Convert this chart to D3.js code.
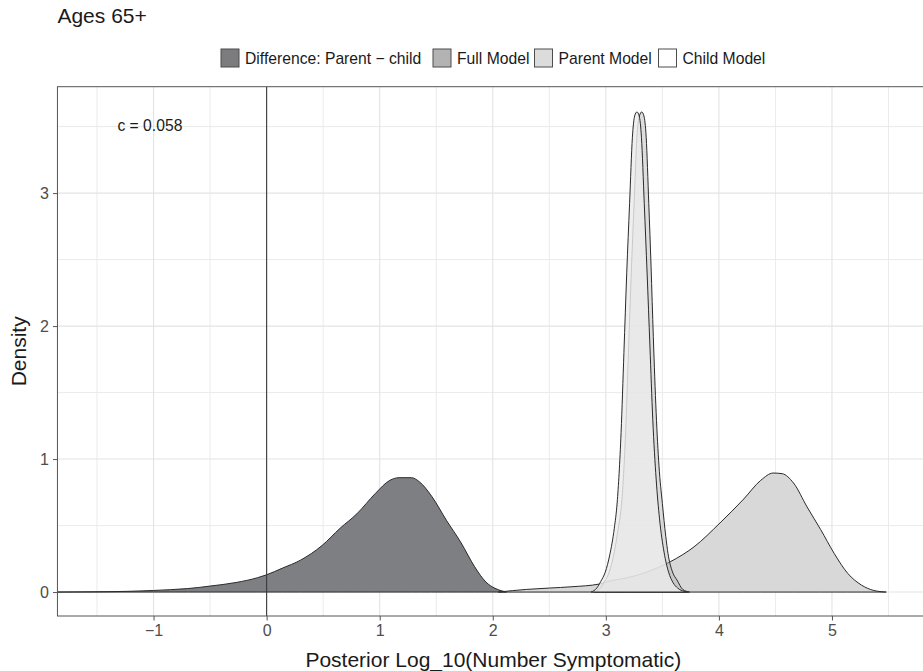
<!DOCTYPE html>
<html>
<head>
<meta charset="utf-8">
<script src="https://cdn.jsdelivr.net/npm/d3@7"></script>
<style>
  html, body { margin: 0; padding: 0; background: #ffffff; }
  svg { display: block; }
  text { font-family: "Liberation Sans", Arial, Helvetica, sans-serif; }
</style>
</head>
<body>
<svg id="chart" width="923" height="671"></svg>
<script>
// ---------------- data ----------------
const titleText = "Ages 65+";
const xTitle = "Posterior Log_10(Number Symptomatic)";
const yTitle = "Density";
const annotation = "c = 0.058";

const seriesNames = ["Difference: Parent \u2212 child", "Full Model", "Parent Model", "Child Model"];
const legendFills = ["#7c7c7e", "#b3b3b3", "#dcdcdc", "#ffffff"];

const xTicks = [-1, 0, 1, 2, 3, 4, 5];
const xTickLabels = ["\u22121", "0", "1", "2", "3", "4", "5"];
const xMinor = [-1.5, -0.5, 0.5, 1.5, 2.5, 3.5, 4.5, 5.5];
const yTicks = [0, 1, 2, 3];
const yTickLabels = ["0", "1", "2", "3"];
const yMinor = [0.5, 1.5, 2.5, 3.5];

// Difference: Parent - child (dark grey)
const diffX = [-1.85, -1.5, -1.2, -1.0, -0.85, -0.7, -0.5, -0.27, -0.08, 0.0, 0.14, 0.30, 0.49, 0.65, 0.80, 0.96, 1.09, 1.17, 1.28, 1.35, 1.46, 1.59, 1.72, 1.84, 1.94, 2.02, 2.08, 2.12];
const diffY = [0, 0.002, 0.006, 0.012, 0.018, 0.026, 0.045, 0.072, 0.108, 0.13, 0.18, 0.24, 0.35, 0.48, 0.59, 0.74, 0.84, 0.86, 0.86, 0.83, 0.72, 0.54, 0.37, 0.19, 0.075, 0.028, 0.009, 0];

// Wide model density (peak near 4.5)
const wideX = [2.05, 2.3, 2.5, 2.7, 2.94, 3.01, 3.2, 3.33, 3.45, 3.57, 3.78, 4.01, 4.22, 4.37, 4.48, 4.56, 4.66, 4.78, 4.90, 5.02, 5.14, 5.26, 5.37, 5.48];
const wideY = [0, 0.02, 0.03, 0.04, 0.06, 0.078, 0.11, 0.14, 0.18, 0.228, 0.34, 0.52, 0.70, 0.84, 0.895, 0.89, 0.82, 0.64, 0.47, 0.29, 0.14, 0.053, 0.012, 0];

// Spike, right-shifted (darker)
const spikeAX = [2.90, 2.95, 2.99, 3.03, 3.07, 3.11, 3.14, 3.175, 3.20, 3.225, 3.25, 3.275, 3.297, 3.317, 3.337, 3.357, 3.38, 3.40, 3.42, 3.445, 3.47, 3.50, 3.53, 3.55, 3.59, 3.63, 3.68, 3.74];
const spikeAY = [0, 0.03, 0.08, 0.15, 0.28, 0.48, 0.67, 1.2, 1.8, 2.4, 2.92, 3.42, 3.58, 3.61, 3.58, 3.42, 2.92, 2.45, 1.92, 1.35, 0.95, 0.667, 0.42, 0.29, 0.15, 0.09, 0.02, 0];

// Spike, left (lighter)
const spikeBX = [2.87, 2.92, 2.955, 2.995, 3.035, 3.075, 3.10, 3.135, 3.16, 3.185, 3.21, 3.235, 3.255, 3.275, 3.295, 3.315, 3.34, 3.365, 3.39, 3.415, 3.445, 3.475, 3.515, 3.555, 3.595, 3.635, 3.695, 3.72];
const spikeBY = [0, 0.03, 0.08, 0.15, 0.28, 0.48, 0.67, 1.2, 1.8, 2.4, 2.92, 3.42, 3.58, 3.61, 3.58, 3.42, 2.92, 2.4, 1.85, 1.3, 0.85, 0.55, 0.3, 0.15, 0.07, 0.03, 0.005, 0];

// ---------------- layout ----------------
const svg = d3.select("#chart");
const W = 923, H = 671;
const panel = { left: 57.45, right: 929.2, top: 86.7, bottom: 616 };

const x = d3.scaleLinear().domain([-1.85, 5.86]).range([panel.left, panel.right]);
const y = d3.scaleLinear().domain([-0.18, 3.80]).range([panel.bottom, panel.top]);

svg.append("rect").attr("width", W).attr("height", H).attr("fill", "#ffffff");

const defs = svg.append("defs");
defs.append("clipPath").attr("id", "clip").append("rect")
  .attr("x", panel.left).attr("y", panel.top)
  .attr("width", panel.right - panel.left).attr("height", panel.bottom - panel.top);

const g = svg.append("g").attr("clip-path", "url(#clip)");

// grid
g.selectAll(".xminor").data(xMinor).join("line")
  .attr("x1", d => x(d)).attr("x2", d => x(d))
  .attr("y1", panel.top).attr("y2", panel.bottom)
  .attr("stroke", "#ebebeb").attr("stroke-width", 1);
g.selectAll(".yminor").data(yMinor).join("line")
  .attr("y1", d => y(d)).attr("y2", d => y(d))
  .attr("x1", panel.left).attr("x2", panel.right)
  .attr("stroke", "#ebebeb").attr("stroke-width", 1);
g.selectAll(".xmajor").data(xTicks).join("line")
  .attr("x1", d => x(d)).attr("x2", d => x(d))
  .attr("y1", panel.top).attr("y2", panel.bottom)
  .attr("stroke", "#e3e3e3").attr("stroke-width", 1.1);
g.selectAll(".ymajor").data(yTicks).join("line")
  .attr("y1", d => y(d)).attr("y2", d => y(d))
  .attr("x1", panel.left).attr("x2", panel.right)
  .attr("stroke", "#e3e3e3").attr("stroke-width", 1.1);

// densities
const area = d3.area()
  .x(d => x(d[0])).y0(y(0)).y1(d => y(d[1]))
  .curve(d3.curveMonotoneX);

function series(xs, ys) { return xs.map((v, i) => [v, ys[i]]); }

g.append("path").datum(series(diffX, diffY)).attr("d", area)
  .attr("fill", "#7e7f83").attr("stroke", "#2a2a2a").attr("stroke-width", 1);
g.append("path").datum(series(wideX, wideY)).attr("d", area)
  .attr("fill", "#d8d8d9").attr("stroke", "#2a2a2a").attr("stroke-width", 1);
g.append("path").datum(series(spikeAX, spikeAY)).attr("d", area)
  .attr("fill", "#b3b3b3").attr("fill-opacity", 0.45)
  .attr("stroke", "#2a2a2a").attr("stroke-width", 1);
g.append("path").datum(series(spikeBX, spikeBY)).attr("d", area)
  .attr("fill", "#ececec").attr("fill-opacity", 0.82)
  .attr("stroke", "#2a2a2a").attr("stroke-width", 1);

// vertical reference line at 0
g.append("line")
  .attr("x1", x(0)).attr("x2", x(0)).attr("y1", panel.top).attr("y2", panel.bottom)
  .attr("stroke", "#3a3a3a").attr("stroke-width", 1.1);

// annotation
svg.append("text").attr("x", x(-1.32)).attr("y", 131)
  .attr("text-anchor", "start").attr("font-size", 15.7).attr("fill", "#1a1a1a")
  .text(annotation);

// panel border
svg.append("rect")
  .attr("x", panel.left).attr("y", panel.top)
  .attr("width", panel.right - panel.left).attr("height", panel.bottom - panel.top)
  .attr("fill", "none").attr("stroke", "#555555").attr("stroke-width", 1);

// axes
const xAxis = d3.axisBottom(x).tickValues(xTicks).tickFormat((d, i) => xTickLabels[i])
  .tickSize(4.5).tickPadding(4);
const gx = svg.append("g").attr("transform", `translate(0,${panel.bottom})`).call(xAxis);
gx.select(".domain").remove();
gx.selectAll("line").attr("stroke", "#555555");
gx.selectAll("text").attr("font-size", 16).attr("fill", "#4d4d4d")
  .attr("font-family", "Liberation Sans, Arial, sans-serif");

const yAxis = d3.axisLeft(y).tickValues(yTicks).tickFormat((d, i) => yTickLabels[i])
  .tickSize(4.5).tickPadding(4);
const gy = svg.append("g").attr("transform", `translate(${panel.left},0)`).call(yAxis);
gy.select(".domain").remove();
gy.selectAll("line").attr("stroke", "#555555");
gy.selectAll("text").attr("font-size", 16).attr("fill", "#4d4d4d")
  .attr("font-family", "Liberation Sans, Arial, sans-serif");

// titles
svg.append("text").attr("x", (panel.left + panel.right) / 2).attr("y", 667)
  .attr("text-anchor", "middle").attr("font-size", 21).attr("fill", "#1a1a1a")
  .text(xTitle);
svg.append("text")
  .attr("transform", `translate(26,${(panel.top + panel.bottom) / 2}) rotate(-90)`)
  .attr("text-anchor", "middle").attr("font-size", 21).attr("fill", "#1a1a1a")
  .text(yTitle);
svg.append("text").attr("x", panel.left).attr("y", 23)
  .attr("text-anchor", "start").attr("font-size", 21).attr("fill", "#1a1a1a")
  .text(titleText);

// legend
const keyX = [221, 433, 534.5, 658.5];
const leg = svg.append("g");
seriesNames.forEach((name, i) => {
  leg.append("rect").attr("x", keyX[i]).attr("y", 49).attr("width", 18).attr("height", 18)
    .attr("fill", legendFills[i]).attr("stroke", "#4d4d4d").attr("stroke-width", 1);
  leg.append("text").attr("x", keyX[i] + 24).attr("y", 64)
    .attr("font-size", 15.7).attr("fill", "#1a1a1a").text(name);
});
</script>
</body>
</html>
